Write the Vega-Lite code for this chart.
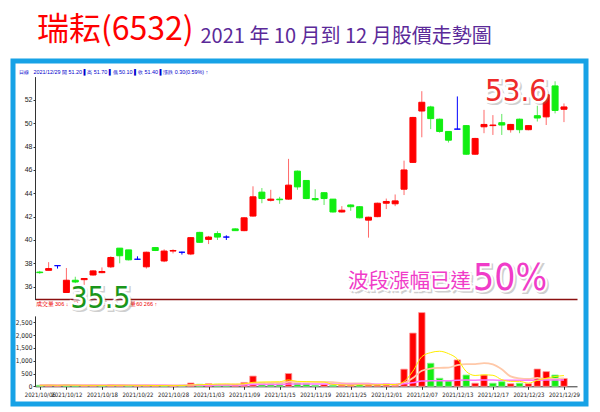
{
  "$schema": "https://vega.github.io/schema/vega-lite/v6.json",
  "width": 573,
  "height": 343,
  "autosize": {"type": "none"},
  "padding": {"left": 13, "top": 61, "right": 14, "bottom": 8},
  "background": "white",
  "config": {
    "view": {"stroke": "#17a2e6", "strokeWidth": 5},
    "font": "Liberation Sans",
    "axis": {"grid": false}
  },
  "title": {
    "text": "瑞耘(6532)",
    "color": "#ff0000",
    "fontSize": 32,
    "font": "Noto Sans CJK TC",
    "fontWeight": "normal",
    "anchor": "start",
    "frame": "group",
    "dx": 24,
    "dy": 45,
    "offset": 0,
    "baseline": "alphabetic"
  },
  "datasets": {
    "k": [
      {"date":"2021/10/06","open":37.25,"high":37.35,"low":37.1,"close":37.2,"volume":40},
      {"date":"2021/10/07","open":37.4,"high":38.1,"low":37.4,"close":37.55,"volume":50},
      {"date":"2021/10/08","open":37.8,"high":37.8,"low":37.55,"close":37.8,"volume":30},
      {"date":"2021/10/12","open":35.5,"high":37.6,"low":35.5,"close":36.55,"volume":60},
      {"date":"2021/10/13","open":36.55,"high":36.85,"low":36.3,"close":36.4,"volume":30},
      {"date":"2021/10/14","open":36.6,"high":36.7,"low":36.15,"close":36.7,"volume":25},
      {"date":"2021/10/15","open":37.0,"high":37.4,"low":36.95,"close":37.35,"volume":40},
      {"date":"2021/10/18","open":37.2,"high":37.65,"low":37.15,"close":37.3,"volume":30},
      {"date":"2021/10/19","open":37.7,"high":38.6,"low":37.6,"close":38.5,"volume":60},
      {"date":"2021/10/20","open":39.3,"high":39.3,"low":38.0,"close":38.65,"volume":40},
      {"date":"2021/10/21","open":39.15,"high":39.15,"low":38.25,"close":38.3,"volume":30},
      {"date":"2021/10/22","open":38.35,"high":38.6,"low":38.3,"close":38.35,"volume":20},
      {"date":"2021/10/25","open":37.7,"high":39.0,"low":37.55,"close":38.95,"volume":35},
      {"date":"2021/10/26","open":39.35,"high":39.4,"low":39.05,"close":39.1,"volume":25},
      {"date":"2021/10/27","open":38.2,"high":39.2,"low":38.1,"close":39.05,"volume":30},
      {"date":"2021/10/28","open":39.05,"high":39.2,"low":38.85,"close":39.1,"volume":20},
      {"date":"2021/10/29","open":38.95,"high":39.0,"low":38.75,"close":38.95,"volume":40},
      {"date":"2021/11/01","open":38.8,"high":40.25,"low":38.7,"close":40.2,"volume":130},
      {"date":"2021/11/02","open":40.65,"high":40.7,"low":39.75,"close":39.8,"volume":80},
      {"date":"2021/11/03","open":40.05,"high":40.35,"low":39.65,"close":40.25,"volume":100},
      {"date":"2021/11/04","open":40.55,"high":40.75,"low":40.0,"close":40.25,"volume":80},
      {"date":"2021/11/05","open":40.25,"high":40.4,"low":40.0,"close":40.25,"volume":70},
      {"date":"2021/11/08","open":40.95,"high":41.0,"low":40.8,"close":40.8,"volume":80},
      {"date":"2021/11/09","open":40.8,"high":41.95,"low":40.75,"close":41.9,"volume":150},
      {"date":"2021/11/10","open":42.05,"high":44.6,"low":42.0,"close":43.7,"volume":400},
      {"date":"2021/11/11","open":44.1,"high":44.45,"low":43.15,"close":43.55,"volume":140},
      {"date":"2021/11/12","open":43.4,"high":44.3,"low":43.3,"close":43.5,"volume":100},
      {"date":"2021/11/15","open":43.5,"high":43.7,"low":43.1,"close":43.45,"volume":100},
      {"date":"2021/11/16","open":43.5,"high":46.95,"low":43.45,"close":44.7,"volume":500},
      {"date":"2021/11/17","open":45.9,"high":45.95,"low":44.3,"close":44.55,"volume":120},
      {"date":"2021/11/18","open":45.1,"high":45.1,"low":43.5,"close":43.55,"volume":100},
      {"date":"2021/11/19","open":43.55,"high":44.35,"low":43.35,"close":43.45,"volume":40},
      {"date":"2021/11/22","open":44.05,"high":44.1,"low":43.0,"close":43.55,"volume":70},
      {"date":"2021/11/23","open":43.5,"high":43.5,"low":42.35,"close":42.4,"volume":40},
      {"date":"2021/11/24","open":42.4,"high":42.9,"low":42.35,"close":42.55,"volume":45},
      {"date":"2021/11/25","open":43.0,"high":43.05,"low":42.5,"close":42.85,"volume":40},
      {"date":"2021/11/26","open":42.85,"high":42.9,"low":41.85,"close":41.9,"volume":90},
      {"date":"2021/11/29","open":41.7,"high":42.0,"low":40.2,"close":41.95,"volume":50},
      {"date":"2021/11/30","open":42.0,"high":43.2,"low":41.95,"close":43.15,"volume":70},
      {"date":"2021/12/01","open":43.15,"high":43.55,"low":42.65,"close":43.3,"volume":95},
      {"date":"2021/12/02","open":43.1,"high":43.9,"low":42.9,"close":43.35,"volume":50},
      {"date":"2021/12/03","open":44.35,"high":46.8,"low":43.85,"close":46.0,"volume":670},
      {"date":"2021/12/06","open":46.65,"high":50.55,"low":46.6,"close":50.5,"volume":2080},
      {"date":"2021/12/07","open":51.05,"high":52.75,"low":48.8,"close":51.8,"volume":2880},
      {"date":"2021/12/08","open":51.4,"high":51.5,"low":49.5,"close":50.4,"volume":900},
      {"date":"2021/12/09","open":50.35,"high":50.4,"low":49.2,"close":49.3,"volume":315},
      {"date":"2021/12/10","open":49.3,"high":49.3,"low":48.35,"close":48.55,"volume":210},
      {"date":"2021/12/13","open":49.5,"high":52.3,"low":49.5,"close":49.5,"volume":1030},
      {"date":"2021/12/14","open":49.8,"high":49.85,"low":47.3,"close":47.35,"volume":440},
      {"date":"2021/12/15","open":47.35,"high":48.75,"low":47.3,"close":48.7,"volume":120},
      {"date":"2021/12/16","open":49.7,"high":51.15,"low":49.15,"close":49.9,"volume":440},
      {"date":"2021/12/17","open":49.8,"high":50.7,"low":49.0,"close":49.85,"volume":120},
      {"date":"2021/12/20","open":50.05,"high":50.8,"low":49.0,"close":49.85,"volume":180},
      {"date":"2021/12/21","open":49.45,"high":49.95,"low":49.2,"close":49.9,"volume":100},
      {"date":"2021/12/22","open":50.35,"high":50.4,"low":49.15,"close":49.45,"volume":120},
      {"date":"2021/12/23","open":49.45,"high":49.85,"low":49.4,"close":49.8,"volume":100},
      {"date":"2021/12/24","open":50.65,"high":51.5,"low":50.15,"close":50.45,"volume":675},
      {"date":"2021/12/27","open":50.55,"high":52.5,"low":49.85,"close":52.45,"volume":575},
      {"date":"2021/12/28","open":53.2,"high":53.6,"low":50.85,"close":51.1,"volume":440},
      {"date":"2021/12/29","open":51.2,"high":51.7,"low":50.1,"close":51.4,"volume":306}
    ]
  },
  "resolve": {"scale": {"y": "independent"}, "axis": {"x": "independent", "y": "independent"}},
  "layer": [
    {
      "data": {"name": "k"},
      "encoding": {
        "x": {
          "field": "date", "type": "ordinal",
          "scale": {"type": "point", "range": [22, 564], "padding": 1.054, "align": 0.267},
          "axis": {"orient": "top", "offset": -238, "domainColor": "#8b1010", "domainWidth": 1.6, "labels": false, "ticks": false, "title": null}
        }
      },
      "layer": [
        {
          "mark": {"type": "rule", "strokeWidth": 1},
          "encoding": {
            "y": {
              "field": "low", "type": "quantitative",
              "scale": {"domain": [34.9, 54], "range": [238.5, 15.6], "nice": false, "zero": false},
              "axis": {
                "orient": "left", "offset": -22,
                "values": [36, 38, 40, 42, 44, 46, 48, 50, 52],
                "format": "d", "labelOverlap": false,
                "tickSize": 2, "tickColor": "#333", "domainColor": "#333",
                "labelFontSize": 7, "labelColor": "#222", "labelPadding": 1,
                "title": "日線　2021/12/29 開 51.20 ▌高 51.70 ▌低 50.10 ▌收 51.40 ▌漲跌 0.30(0.59%) ↑",
                "titleAngle": 0, "titleAlign": "left", "titleBaseline": "middle",
                "titleX": -17, "titleY": 10, "titleFontSize": 5.4, "titleColor": "#0000cc", "titleFontWeight": "normal"
              }
            },
            "y2": {"field": "high"},
            "color": {
              "condition": [
                {"test": "datum.close > datum.open", "value": "#ff6a6a"},
                {"test": "datum.close < datum.open", "value": "#5ee85e"}
              ],
              "value": "#0000ff"
            }
          }
        },
        {
          "mark": {"type": "bar", "size": 6, "strokeWidth": 1},
          "encoding": {
            "y": {"field": "open", "type": "quantitative"},
            "y2": {"field": "close"},
            "color": {
              "condition": [
                {"test": "datum.close > datum.open", "value": "#ff0000"},
                {"test": "datum.close < datum.open", "value": "#11ee11"}
              ],
              "value": "#0000ff"
            },
            "stroke": {
              "condition": [
                {"test": "datum.close > datum.open", "value": "#ff0000"},
                {"test": "datum.close < datum.open", "value": "#11ee11"}
              ],
              "value": "#0000ff"
            }
          }
        },
        {
          "data": {"values": [{"date": "2021/12/28", "price": 53.6, "label": "53.6"}]},
          "encoding": {"y": {"field": "price", "type": "quantitative"}, "text": {"field": "label"}},
          "layer": [
            {"mark": {"type": "text", "align": "right", "baseline": "middle", "dx": -6, "dy": 13, "font": "DejaVu Sans Condensed, sans-serif", "fontSize": 31, "fill": "#777", "stroke": "#777", "strokeWidth": 4, "opacity": 0.35}},
            {"mark": {"type": "text", "align": "right", "baseline": "middle", "dx": -8, "dy": 11, "font": "DejaVu Sans Condensed, sans-serif", "fontSize": 31, "fill": "white", "stroke": "white", "strokeWidth": 5}},
            {"mark": {"type": "text", "align": "right", "baseline": "middle", "dx": -8, "dy": 11, "font": "DejaVu Sans Condensed, sans-serif", "fontSize": 31, "fill": "#ee2a2a"}}
          ]
        },
        {
          "data": {"values": [{"date": "2021/10/12", "price": 35.5, "label": "35.5"}]},
          "encoding": {"y": {"field": "price", "type": "quantitative"}, "text": {"field": "label"}},
          "layer": [
            {"mark": {"type": "text", "align": "left", "baseline": "middle", "dx": 6, "dy": 9, "font": "DejaVu Sans Condensed, sans-serif", "fontSize": 30, "fill": "#777", "stroke": "#777", "strokeWidth": 4, "opacity": 0.35}},
            {"mark": {"type": "text", "align": "left", "baseline": "middle", "dx": 4, "dy": 7, "font": "DejaVu Sans Condensed, sans-serif", "fontSize": 30, "fill": "white", "stroke": "white", "strokeWidth": 5}},
            {"mark": {"type": "text", "align": "left", "baseline": "middle", "dx": 4, "dy": 7, "font": "DejaVu Sans Condensed, sans-serif", "fontSize": 30, "fill": "#1a961a"}}
          ]
        },
        {
          "data": {"values": [{"date": "2021/12/15", "price": 35.75, "label": "波段漲幅已達"}]},
          "encoding": {"y": {"field": "price", "type": "quantitative"}, "text": {"field": "label"}},
          "layer": [
            {"mark": {"type": "text", "align": "right", "baseline": "alphabetic", "dx": -2, "dy": 0, "font": "Noto Sans CJK TC", "fontSize": 20.5, "fill": "#777", "stroke": "#777", "strokeWidth": 3, "opacity": 0.35}},
            {"mark": {"type": "text", "align": "right", "baseline": "alphabetic", "dx": -4, "dy": -2, "font": "Noto Sans CJK TC", "fontSize": 20.5, "fill": "white", "stroke": "white", "strokeWidth": 4}},
            {"mark": {"type": "text", "align": "right", "baseline": "alphabetic", "dx": -4, "dy": -2, "font": "Noto Sans CJK TC", "fontSize": 20.5, "fill": "#f03cc8"}}
          ]
        },
        {
          "data": {"values": [{"date": "2021/12/15", "price": 35.75, "label": "50%"}]},
          "encoding": {"y": {"field": "price", "type": "quantitative"}, "text": {"field": "label"}},
          "layer": [
            {"mark": {"type": "text", "align": "left", "baseline": "alphabetic", "dx": 0, "dy": 2, "font": "DejaVu Sans Condensed, sans-serif", "fontSize": 37, "fill": "#777", "stroke": "#777", "strokeWidth": 3, "opacity": 0.35}},
            {"mark": {"type": "text", "align": "left", "baseline": "alphabetic", "dx": -2, "dy": 0, "font": "DejaVu Sans Condensed, sans-serif", "fontSize": 37, "fill": "white", "stroke": "white", "strokeWidth": 4}},
            {"mark": {"type": "text", "align": "left", "baseline": "alphabetic", "dx": -2, "dy": 0, "font": "DejaVu Sans Condensed, sans-serif", "fontSize": 37, "fill": "#f03cc8"}}
          ]
        }
      ]
    },
    {
      "data": {"name": "k"},
      "transform": [
        {"window": [{"op": "lag", "field": "close", "as": "prev"}], "sort": [{"field": "date"}]},
        {"window": [{"op": "mean", "field": "volume", "as": "ma5"}], "frame": [-4, 0], "sort": [{"field": "date"}]},
        {"window": [{"op": "mean", "field": "volume", "as": "ma10"}], "frame": [-9, 0], "sort": [{"field": "date"}]},
        {"window": [{"op": "mean", "field": "volume", "as": "ma60"}], "frame": [-59, 0], "sort": [{"field": "date"}]}
      ],
      "encoding": {
        "x": {
          "field": "date", "type": "ordinal",
          "axis": {
            "orient": "bottom", "offset": -17.7,
            "values": ["2021/10/06","2021/10/12","2021/10/18","2021/10/22","2021/10/28","2021/11/03","2021/11/09","2021/11/15","2021/11/19","2021/11/25","2021/12/01","2021/12/07","2021/12/13","2021/12/17","2021/12/23","2021/12/29"],
            "labelAngle": 0, "labelFontSize": 6, "labelColor": "#222", "labelOverlap": false,
            "labelFont": "DejaVu Sans Condensed, sans-serif",
            "tickSize": 3, "tickColor": "#333", "domainColor": "#333", "labelPadding": 2,
            "title": "2021 年 10 月到 12 月股價走勢圖",
            "titleColor": "#5b2a99", "titleFontSize": 20, "titleFont": "Noto Sans CJK TC", "titleFontWeight": "normal",
            "titleAlign": "left", "titleBaseline": "alphabetic", "titleAnchor": "start",
            "titleX": 187, "titleY": -343.8
          }
        }
      },
      "layer": [
        {
          "mark": {"type": "bar", "size": 6.5, "strokeWidth": 0.8},
          "encoding": {
            "y": {
              "field": "volume", "type": "quantitative",
              "scale": {"domain": [0, 2750], "range": [325.3, 254.9], "nice": false, "zero": false},
              "axis": {
                "orient": "left", "offset": -22,
                "values": [0, 500, 1000, 1500, 2000, 2500], "format": ",d", "labelOverlap": false,
                "tickSize": 2, "tickColor": "#333", "domainColor": "#333",
                "labelFontSize": 6.5, "labelColor": "#222", "labelPadding": 1,
                "labelFont": "DejaVu Sans Condensed, sans-serif",
                "title": "成交量 306 ↓ 5日 419 ↑ 10日 306 ↑ 均量60 266 ↑",
                "titleAngle": 0, "titleAlign": "left", "titleBaseline": "middle",
                "titleX": 0, "titleY": 242, "titleFontSize": 5.5, "titleColor": "#ee0000", "titleFontWeight": "normal"
              }
            },
            "color": {"condition": {"test": "datum.prev != null && datum.close > datum.prev", "value": "#ff0000"}, "value": "#11ee11"},
            "stroke": {"condition": {"test": "datum.prev != null && datum.close > datum.prev", "value": "#ff9a9a"}, "value": "#88f088"}
          }
        },
        {
          "mark": {"type": "line", "interpolate": "monotone", "strokeWidth": 1.8, "color": "#ffc8a8"},
          "encoding": {"y": {"field": "ma10", "type": "quantitative"}}
        },
        {
          "mark": {"type": "line", "interpolate": "monotone", "strokeWidth": 1.5, "color": "#ff77ff"},
          "encoding": {"y": {"field": "ma60", "type": "quantitative"}}
        },
        {
          "mark": {"type": "line", "interpolate": "monotone", "strokeWidth": 1, "color": "#ffee00"},
          "encoding": {"y": {"field": "ma5", "type": "quantitative"}}
        }
      ]
    }
  ]
}
